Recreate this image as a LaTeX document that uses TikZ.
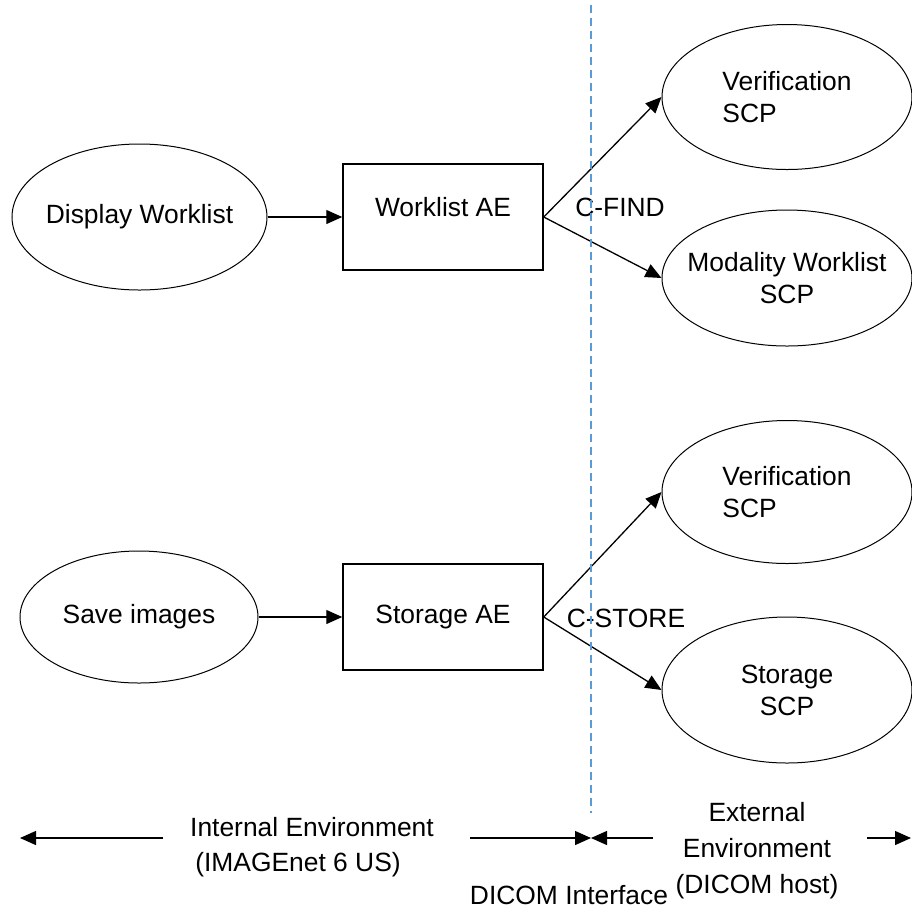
\documentclass[tikz,border=0pt]{standalone}
\usepackage{fontspec}
\setmainfont{Liberation Sans}
\usetikzlibrary{arrows.meta,shapes}
\definecolor{ifcblue}{RGB}{91,155,213}

\begin{document}
\begin{tikzpicture}[x = 0.5pt, y = -0.5pt, line width = 0.65pt,
    >={Triangle[length=8pt, width=7pt]},
    font = \fontsize{13.2}{16}\selectfont,
    proc/.style = {ellipse, draw=black, line width=0.5pt, inner xsep=-16pt, inner ysep=-4pt, align=center},
    aebox/.style = {rectangle, draw=black, line width=0.75pt, minimum width=100pt, minimum height=53pt}]

  \useasboundingbox (0,0) rectangle (912,907);

  % worklist side
  \node[proc, minimum width = 127.5pt, minimum height = 73pt] at (139.5,217) (dw) {Display Worklist};
  \node[aebox, right of = dw, node distance = 151.75pt, text depth = 10pt] (wae) {Worklist AE};

  \node[proc, align = left, minimum width = 125pt, minimum height = 72.5pt] at (787,97) (v1) {Verification\\ SCP};
  \node[proc, minimum width = 125pt, minimum height = 68pt] at (787,278) (mw) {Modality Worklist\\SCP};

  \node at (620,207) (find) {C-FIND};

  % storage side
  \node[proc, minimum width = 119pt, minimum height = 66pt] at (139,617) (si) {Save images};
  \node[aebox, right of = si, node distance = 152pt] (sae) {Storage AE};

  \node[proc, align = left, minimum width = 125pt, minimum height = 71.5pt] at (787,492) (v2) {Verification\\ SCP};
  \node[proc, minimum width = 125pt, minimum height = 73pt] at (787,690) (st) {Storage\\SCP};

  \node at (626,618) (store) {C-STORE};

  \draw[->] (dw) -- (wae);
  \draw[->] (wae.east) -- (v1.west);
  \draw[->] (wae.east) -- (mw.west);
  \draw[->] (si) -- (sae);
  \draw[->] (sae.east) -- (v2.west);
  \draw[->] (sae.east) -- (st.west);

  % dicom interface
  \coordinate (ifctop) at (591,5);
  \coordinate (ifcbot) at (591,813);
  \draw[ifcblue, line width = 1pt, dash pattern = on 4pt off 2.5pt] (ifctop) -- (ifcbot);

  % environments
  \coordinate (lt) at (20,838);
  \coordinate (ls) at (163,838);
  \coordinate (ms) at (470,838);
  \coordinate (mt) at (591,838);
  \coordinate (es) at (653,838);
  \coordinate (rs) at (867,838);
  \coordinate (rt) at (911,838);

  \draw[->] (ls) -- (lt);
  \draw[->] (ms) -- (mt);
  \draw[->] (es) -- (mt);
  \draw[->] (rs) -- (rt);

  \node at (312,827) (intl) {Internal Environment};
  \node at (298,865) (intlb) {(IMAGEnet 6 US)};
  \node[align = center, font = \fontsize{13.2}{18}\selectfont] at (757,851) (extl) {External\\Environment\\(DICOM host)};
  \node at (569,895) (ifc) {DICOM Interface};

\end{tikzpicture}
\end{document}
